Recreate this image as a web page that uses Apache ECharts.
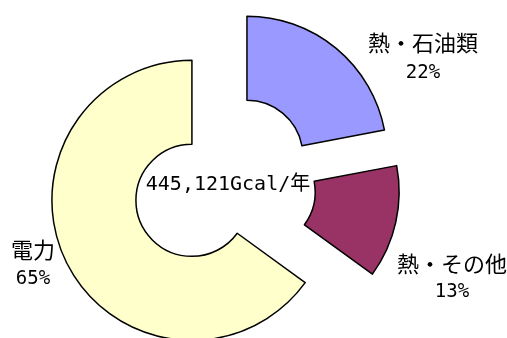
<!DOCTYPE html>
<html><head><meta charset="utf-8">
<script src="https://cdn.jsdelivr.net/npm/echarts@6/dist/echarts.min.js"></script>
<style>html,body{margin:0;padding:0;background:#fff}#c{width:507px;height:338px}</style>
</head><body><div id="c"></div>
<script>
const categories = ['熱・石油類', '熱・その他', '電力'];
const values = [22, 13, 65];
const colors = ['#9999FF', '#993366', '#FFFFCC'];
const totalText = '445,121Gcal/年';
// label anchor positions (layout only): [centerX, nameY, percentY]
const labelPos = [[423, 43, 73], [452, 264, 292], [33, 250, 279]];

const chart = echarts.init(document.getElementById('c'), null, {renderer: 'canvas'});

const labelGraphics = [];
categories.forEach((c, i) => {
  labelGraphics.push({
    type: 'text', x: labelPos[i][0], y: labelPos[i][1], silent: true,
    style: {text: c, font: '22px "Noto Sans CJK JP"', fill: '#000', align: 'center', verticalAlign: 'middle'}
  });
  labelGraphics.push({
    type: 'text', x: labelPos[i][0], y: labelPos[i][2], silent: true,
    style: {text: values[i] + '%', font: '19px "DejaVu Sans Mono"', fill: '#000', align: 'center', verticalAlign: 'middle'}
  });
});

chart.setOption({
  backgroundColor: '#fff',
  animation: false,
  series: [{
    type: 'pie',
    center: [224, 184],
    radius: [56, 140],
    startAngle: 90,
    clockwise: true,
    selectedMode: 'multiple',
    selectedOffset: 36,
    avoidLabelOverlap: false,
    silent: true,
    emphasis: {scale: false},
    itemStyle: {borderColor: '#000', borderWidth: 1.5},
    label: {show: false},
    labelLine: {show: false},
    data: categories.map((c, i) => ({name: c, value: values[i], selected: true, itemStyle: {color: colors[i]}}))
  }],
  graphic: labelGraphics.concat([{
    type: 'text',
    x: 228, y: 185, silent: true,
    style: {
      text: totalText,
      font: '20px "DejaVu Sans Mono", "Noto Sans CJK JP"',
      fill: '#000',
      align: 'center',
      verticalAlign: 'middle'
    }
  }])
});
</script></body></html>
